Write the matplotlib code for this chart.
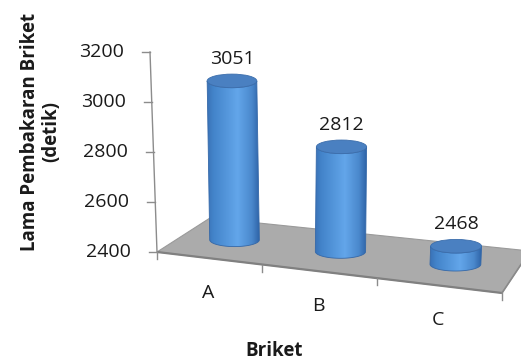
import numpy as np
import matplotlib
matplotlib.use("Agg")
import matplotlib.pyplot as plt
from matplotlib.patches import Polygon, Ellipse
from matplotlib.colors import LinearSegmentedColormap

plt.rcParams['font.family'] = ['Open Sans', 'DejaVu Sans']

# ---- data ----
categories = ['A', 'B', 'C']
burn_time = [3051, 2812, 2468]
y_ticks = [2400, 2600, 2800, 3000, 3200]
y_label = 'Lama Pembakaran Briket\n(detik)'
x_label = 'Briket'

V_MIN, V_MAX = y_ticks[0], y_ticks[-1]

# ---- simple perspective projection of the floor plane ----
# floor coordinates: s along categories (0..n), t along depth (0..1)
n_cat = len(categories)
floor_src = [(0, 0), (n_cat, 0), (0, 1), (n_cat, 1)]
floor_dst = [(157, 252), (502, 293), (210, 218), (530, 251)]


def solve_homography(src, dst):
    rows, rhs = [], []
    for (u, v), (x, y) in zip(src, dst):
        rows.append([u, v, 1, 0, 0, 0, -u * x, -v * x]); rhs.append(x)
        rows.append([0, 0, 0, u, v, 1, -u * y, -v * y]); rhs.append(y)
    h = np.linalg.solve(np.array(rows, float), np.array(rhs, float))
    return np.append(h, 1.0).reshape(3, 3)


H = solve_homography(floor_src, floor_dst)
PX_PER_UNIT = 200.0 / (V_MAX - V_MIN)   # vertical scale at the front-left corner
X_CENTER, LEAN = 300.0, 4086.0           # convergence of vertical lines


def floor_pt(s, t):
    x, y, w = H @ np.array([s, t, 1.0])
    return x / w, y / w, w


def project(s, t, v):
    x, y, w = floor_pt(s, t)
    h = (v - V_MIN) * PX_PER_UNIT / w
    return x + (x - X_CENTER) * h / LEAN, y - h, w


fig = plt.figure(figsize=(5.21, 3.63), dpi=100)
ax = fig.add_axes([0, 0, 1, 1])
ax.axis('off')

TEXT_COLOR = '#1a1a1a'
NUM_SIZE = 14

# ---- floor ----
corners = [floor_pt(s, t)[:2] for s, t in [(0, 0), (n_cat, 0), (n_cat, 1), (0, 1)]]
ax.add_patch(Polygon(corners, closed=True, facecolor='#ababab',
                     edgecolor='#9a9a9a', lw=0.8, zorder=1))
fl, fr = corners[0], corners[1]
ax.plot([fl[0], fr[0]], [fl[1], fr[1]], color='#808080', lw=1.6, zorder=2,
        solid_capstyle='butt')
ax.plot([fr[0], corners[2][0]], [fr[1], corners[2][1]], color='#8a8a8a', lw=1.2, zorder=2)

# category ticks and labels along the front edge
for s in range(n_cat + 1):
    x, y, _ = floor_pt(s, 0)
    ax.plot([x, x], [y, y + 7], color='#8c8c8c', lw=1.0, zorder=2)
for i, c in enumerate(categories):
    x, y, _ = floor_pt(i + 0.5, 0)
    ax.text(x, y + 35, c, ha='center', va='center', fontsize=NUM_SIZE, color=TEXT_COLOR)

# ---- value axis ----
xb, yb, _ = project(0, 0, V_MIN)
xt, yt, _ = project(0, 0, V_MAX)
ax.plot([xb, xt], [yb, yt], color='#8c8c8c', lw=1.0, zorder=2)
for v in y_ticks:
    x, y, _ = project(0, 0, v)
    ax.plot([x - 8, x], [y, y], color='#8c8c8c', lw=1.0, zorder=2)
    ax.text(x - 26, y, f'{v}', ha='right', va='center', fontsize=NUM_SIZE,
            color=TEXT_COLOR)

ax.text(41, 132, y_label, rotation=90, ha='center', va='center',
        multialignment='center', fontsize=13.5, fontweight='bold', color=TEXT_COLOR,
        linespacing=1.1)
ax.text(274, 351, x_label, ha='center', va='center', fontsize=13.5,
        fontweight='bold', color=TEXT_COLOR)

# ---- cylinders ----
body_cmap = LinearSegmentedColormap.from_list(
    'cyl', [(0.0, '#3a72b6'), (0.12, '#4384ca'), (0.58, '#63a6ea'),
            (0.85, '#4a88cc'), (1.0, '#2d62a6')])
grad = body_cmap(np.linspace(0, 1, 128))[np.newaxis, :, :]
RX, RY = 25.0, 6.8

for i, v in enumerate(burn_time):
    bx, by, w = project(i + 0.5, 0.5, V_MIN)
    tx, ty, _ = project(i + 0.5, 0.5, v)
    rx, ry = RX / w ** 0.3, RY
    ang = np.linspace(np.pi, 0, 60)
    lower_b = np.column_stack([bx + rx * np.cos(ang), by + ry * np.sin(ang)])
    lower_t = np.column_stack([tx + rx * np.cos(ang[::-1]), ty + ry * np.sin(ang[::-1])])
    body = np.vstack([lower_b, lower_t])
    body_patch = Polygon(body, closed=True, facecolor='none', edgecolor='#3568a8',
                         lw=0.6, zorder=4)
    ax.add_patch(body_patch)
    left = min(bx, tx) - rx
    right = max(bx, tx) + rx
    im = ax.imshow(grad, extent=(left, right, by + ry, ty - ry), aspect='auto',
                   interpolation='bilinear', zorder=3)
    im.set_clip_path(body_patch)
    ax.add_patch(Ellipse((tx, ty), 2 * rx, 2 * ry, facecolor='#4a80c1',
                         edgecolor='#3c6eac', lw=0.6, zorder=5))
    ax.text(tx, ty - ry - 6, f'{v}', ha='center', va='bottom', fontsize=NUM_SIZE,
            color=TEXT_COLOR, zorder=6)

ax.set_xlim(0, 521)
ax.set_ylim(363, 0)
fig.savefig('out.png', dpi=100)
